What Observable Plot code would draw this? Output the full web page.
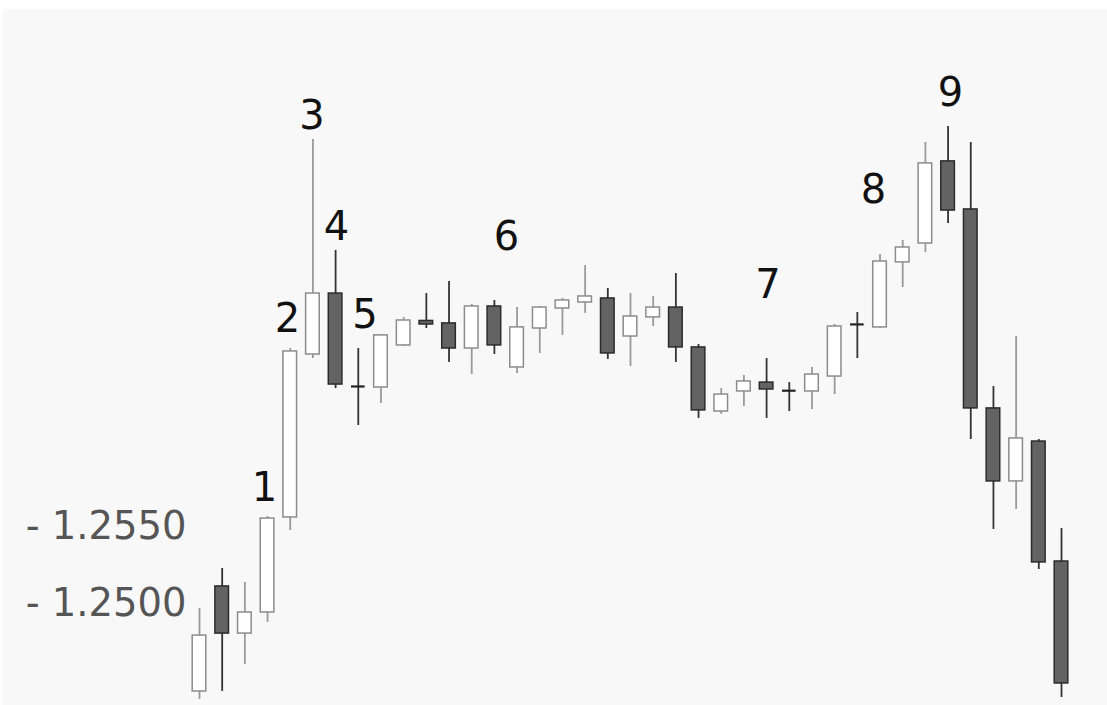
<!DOCTYPE html>
<html><head><meta charset="utf-8">
<script src="https://cdn.jsdelivr.net/npm/d3@7"></script>
<script src="https://cdn.jsdelivr.net/npm/@observablehq/plot@0.6"></script>
<style>
html,body{margin:0;padding:0;background:#fff;}
#chart{position:absolute;left:3px;top:9px;width:1104px;height:696px;background:#f8f8f8;overflow:hidden;}
</style></head><body><div id="chart"></div>
<script>
// OHLC values per candle (EUR/USD-like quotes)
const opens  = [1.24432,1.25114,1.24808,1.24945,1.25562,1.26620,1.27016,1.26413,1.26406,1.26679,
                1.26838,1.26822,1.26659,1.26932,1.26536,1.26789,1.26919,1.26958,1.26984,1.26737,
                1.26861,1.26925,1.26666,1.26250,1.26380,1.26438,1.26390,1.26380,1.26477,1.26816,
                1.26796,1.27218,1.27341,1.27874,1.27562,1.26270,1.25796,1.26055,1.25276];
const highs  = [1.24971,1.25231,1.25140,1.25568,1.26659,1.28016,1.27296,1.26659,1.26750,1.26861,
                1.27016,1.27094,1.26945,1.26971,1.26925,1.26932,1.26984,1.27198,1.27049,1.27016,
                1.26997,1.27146,1.26685,1.26399,1.26484,1.26594,1.26438,1.26536,1.26815,1.26893,
                1.27270,1.27361,1.27997,1.28101,1.27997,1.26412,1.26737,1.26068,1.25490];
const lows   = [1.24380,1.24432,1.24607,1.24880,1.25477,1.26594,1.26399,1.26159,1.26302,1.26672,
                1.26789,1.26568,1.26490,1.26620,1.26497,1.26627,1.26744,1.26887,1.26588,1.26542,
                1.26802,1.26568,1.26205,1.26231,1.26283,1.26205,1.26250,1.26263,1.26360,1.26594,
                1.26789,1.27055,1.27283,1.27471,1.26068,1.25484,1.25614,1.25224,1.24393];
const closes = [1.24795,1.24808,1.24945,1.25555,1.26640,1.27016,1.26425,1.26412,1.26744,1.26841,
                1.26815,1.26659,1.26932,1.26679,1.26796,1.26925,1.26971,1.26997,1.26627,1.26867,
                1.26925,1.26666,1.26257,1.26360,1.26445,1.26393,1.26380,1.26490,1.26802,1.26815,
                1.27224,1.27315,1.27861,1.27555,1.26270,1.25796,1.26075,1.25270,1.24484];

// Wave annotations: text, position in candle units, price level
const labelText  = ["1","2","3","4","5","6","7","8","9"];
const labelX     = [2.865,3.879,4.960,6.040,7.296,13.534,25.06,29.71,33.11];
const labelPrice = [1.25750,1.26848,1.28169,1.27445,1.26874,1.27380,1.27072,1.27685,1.28315];

// Y tick values
const yTicks = [1.2500, 1.2550];

const candles = opens.map((o, i) => ({i, open: o, high: highs[i], low: lows[i], close: closes[i]}));
const isDoji = d => Math.abs(d.open - d.close) < 0.00012;
const isUp = d => d.close > d.open && !isDoji(d);
const upC = candles.filter(isUp);
const downC = candles.filter(d => !isUp(d) && !isDoji(d));
const dojiC = candles.filter(isDoji);
const darkWick = candles.filter(d => !isUp(d));
const labels = labelText.map((t, k) => ({t, x: labelX[k], y: labelPrice[k]}));
const hw = 0.3;

const chart = Plot.plot({
  width: 1104, height: 696,
  marginLeft: 188, marginRight: 0, marginTop: 0, marginBottom: 0,
  x: {type: "linear", domain: [0, 38], range: [196, 1058], axis: null},
  y: {type: "linear", domain: [1.24, 1.285], range: [748.5, 55.5]},
  style: {fontFamily: "DejaVu Sans, Verdana, sans-serif", background: "#f8f8f8", overflow: "visible"},
  marks: [
    Plot.axisY(yTicks, {tickSize: 0, tickPadding: 5, tickFormat: d => "- " + d.toFixed(4), fontSize: 38.5, fill: "#555", label: null}),
    Plot.ruleX(upC, {x: "i", y1: "low", y2: "high", stroke: "#9a9a9a", strokeWidth: 1.8}),
    Plot.ruleX(darkWick, {x: "i", y1: "low", y2: "high", stroke: "#333", strokeWidth: 1.8}),
    Plot.rect(upC, {x1: d => d.i - hw, x2: d => d.i + hw, y1: "open", y2: "close", fill: "#ffffff", stroke: "#8c8c8c", strokeWidth: 1.5}),
    Plot.rect(downC, {x1: d => d.i - hw, x2: d => d.i + hw, y1: "open", y2: "close", fill: "#636363", stroke: "#2b2b2b", strokeWidth: 1.5}),
    Plot.ruleY(dojiC, {y: d => (d.open + d.close) / 2, x1: d => d.i - hw, x2: d => d.i + hw, stroke: "#222", strokeWidth: 2.2}),
    Plot.text(labels, {x: "x", y: "y", text: "t", fontSize: 40, fill: "#111", textAnchor: "middle"})
  ]
});
document.getElementById("chart").appendChild(chart);
</script></body></html>
